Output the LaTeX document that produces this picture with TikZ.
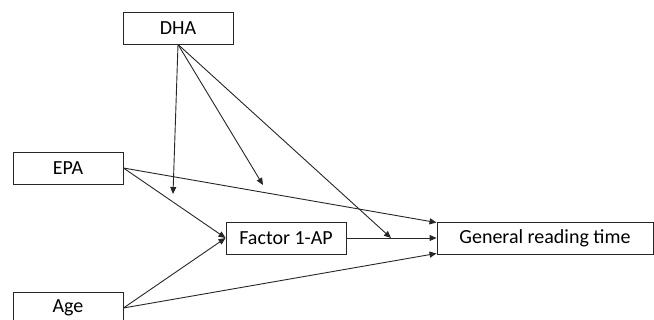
\documentclass[tikz,border=0pt]{standalone}
\usepackage{fontspec}
\setmainfont{Carlito}
\usetikzlibrary{arrows.meta,calc}
\begin{document}
\begin{tikzpicture}[x=1pt,y=-1pt,
  box/.style={draw=black!85,line width=0.9pt,inner sep=0pt,font=\fontsize{20}{24}\selectfont},
  conn/.style={draw=black!85,line width=0.9pt,-{Triangle[length=7pt,width=6pt]}}]
\clip (0,0) rectangle (654,320);
\node[box,minimum width=110pt,minimum height=32pt] (dha) at (178,28) {DHA};
\node[box,minimum width=110pt,minimum height=32pt] (epa) at (68,168) {EPA};
\node[box,minimum width=110pt,minimum height=32pt] (age) at (68,308) {Age};
\node[box,minimum width=120pt,minimum height=32pt] (fac) at (286,238) {Factor 1-AP};
\node[box,minimum width=216pt,minimum height=32pt] (grt) at (545,238) {General reading time};
\coordinate (t1) at (173,194);
\coordinate (t2) at (263,185);
\coordinate (t3) at (391,238);
\draw[conn] (dha.south) -- (t1);
\draw[conn] (dha.south) -- (t2);
\draw[conn] (dha.south) -- (t3);
\draw[conn] (epa.east) -- (fac.west);
\draw[conn] (epa.east) -- ($(grt.north west)+(0,1)$);
\draw[conn] (age.east) -- (fac.west);
\draw[conn] (age.east) -- ($(grt.south west)+(0,-1)$);
\draw[conn] (fac.east) -- (grt.west);
\end{tikzpicture}
\end{document}
